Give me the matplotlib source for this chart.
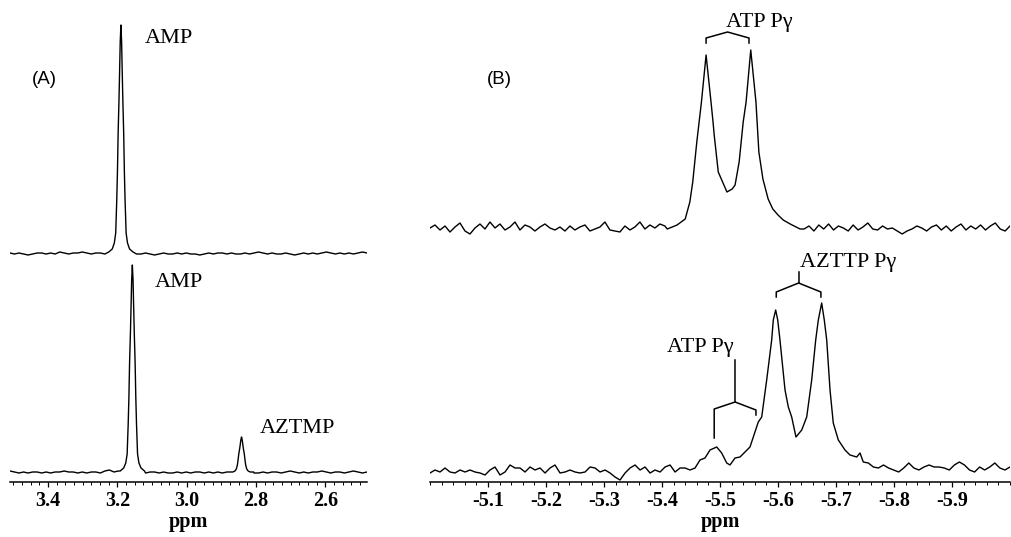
import matplotlib

matplotlib.use("Agg")
import matplotlib.pyplot as plt
import numpy as np
from matplotlib.ticker import FormatStrFormatter, MultipleLocator

plt.rcParams["axes.unicode_minus"] = False

# ---- panel A : AMP / AZTMP region (ppm)
a_xlim = (3.51, 2.48)
a_ticks = [3.4, 3.2, 3.0, 2.8, 2.6]

# baseline noise on an even ppm grid (arbitrary units)
a_top_noise = [1, 0, 1, 0, -1, 0, 1, 1, 0, 1, 0, 2, 1, 0, 1, 1, 2, 1, 0, 1,
               1, 0, 1, 2, 1, 1, 0, 1, 0, 0, 1, 0, -1, 0, 1, 0, 0, 1, 0, 1,
               0, 0, -1, 0, 1, 0, 1, 1, 0, 1, 0, 0, 1, 0, 1, 2, 1, 0, 1, 0,
               0, 1, 0, -1, 0, 1, 0, 1, 0, 1, 2, 1, 0, 1, 0, 1, 0, 1, 2, 1]
a_bot_noise = [2, 1, 0, 1, 0, 1, 1, 0, 1, 0, 1, 1, 2, 1, 1, 0, 1, 0, 1, 1,
               0, 2, 3, 1, 2, 1, 0, 1, 0, 1, 0, 1, 1, 0, 1, 0, 0, 1, 0, 1,
               0, 1, 1, 0, 1, 0, 1, 0, 1, 1, 0, 1, 0, 1, 0, 0, 1, 0, 1, 1,
               0, 1, 2, 1, 0, 1, 0, 1, 1, 2, 1, 0, 1, 1, 0, 1, 2, 1, 0, 1]

amp_top_ppm = [3.225, 3.215, 3.209, 3.205, 3.202, 3.200, 3.198, 3.1955,
               3.1935, 3.192, 3.190, 3.188, 3.1865, 3.1845, 3.182, 3.180,
               3.178, 3.175, 3.171, 3.165, 3.155]
amp_top_int = [2, 5, 11, 21, 54, 82, 121, 155, 187, 212, 229, 212, 187, 155,
               121, 82, 54, 21, 11, 5, 2]

amp_bot_ppm = [3.192, 3.182, 3.176, 3.172, 3.169, 3.167, 3.165, 3.1625,
               3.1605, 3.159, 3.157, 3.155, 3.1535, 3.1515, 3.149, 3.147,
               3.145, 3.142, 3.138, 3.132, 3.122]
amp_bot_int = [2, 5, 10, 19, 49, 75, 110, 141, 170, 193, 208, 193, 170, 141,
               110, 75, 49, 19, 10, 5, 2]

aztmp_ppm = [2.877, 2.867, 2.861, 2.857, 2.854, 2.852, 2.850, 2.8475,
             2.8455, 2.844, 2.842, 2.840, 2.8385, 2.8365, 2.834, 2.832,
             2.830, 2.827, 2.823, 2.817, 2.807]
aztmp_int = [1, 1, 2, 4, 8, 13, 19, 24, 29, 33, 36, 33, 29, 24, 19, 13, 8,
             4, 2, 1, 1]

# ---- panel B : P-gamma region (ppm)
b_xlim = (-5.0, -6.0)
b_ticks = [-5.1, -5.2, -5.3, -5.4, -5.5, -5.6, -5.7, -5.8, -5.9]

b_top_left_noise = [2, 5, 0, 4, -2, 3, 7, -1, -4, 2, 6, 1, 8, 2, 6, 0, 3, 8,
                    0, 5, 3, -1, 3, 6, 2, 0, 3, -1, 4, 0, 3, 5, -1, 1, 3, 8,
                    0, -1, -2, 4, 0, 3, 8, 1, 5, 2, 6, 4]
b_top_right_noise = [1, 4, -1, 5, 1, 6, 0, 4, 2, -1, 5, 0, 3, 7, 1, 0, 4, 1,
                     2, -1, -4, -1, 1, 4, 2, -1, 3, 5, 0, 4, -1, 3, 6, 0, 4,
                     1, 5, 0, 4, 7, 1, -1, 4]
atp_top_ppm = [-5.409, -5.426, -5.440, -5.448, -5.453, -5.460, -5.464,
               -5.468, -5.476, -5.4845, -5.488, -5.490, -5.497, -5.503,
               -5.512, -5.521, -5.526, -5.533, -5.540, -5.545, -5.553,
               -5.562, -5.564, -5.567, -5.574, -5.583, -5.591, -5.600,
               -5.609, -5.621, -5.638]
atp_top_int = [1, 5, 11, 28, 48, 88, 108, 128, 175, 128, 108, 95, 58, 50,
               38, 41, 45, 68, 108, 128, 180, 128, 108, 78, 51, 31, 21, 15,
               10, 6, 1]

b_bot_left_noise = [-1, 2, 0, 4, 0, -1, 2, 0, 2, 0, -1, -3, 2, 5, -3, 0, 7,
                    4, 4, 0, 5, 2, 4, -1, 4, 7, -1, 0, 2, 0, -1, 0, 5, 4, 0,
                    2, -1, -5, -8, -1, 4, 7, 2, 5, -1, 2, 0, 5, 7, 0, 4, 4,
                    2, 4]
b_bot_right_noise = [10, 9, 5, 4, 7, 4, 2, 0, 4, 9, 4, 2, 5, 7, 5, 5, 4, 2,
                     7, 10, 7, 2, 0, 5, 2, 5, 9, 4, 2, 5]
azttp_ppm = [-5.4655, -5.4741, -5.4828, -5.4943, -5.5029, -5.5116, -5.5172,
             -5.5259, -5.5345, -5.5431, -5.5517, -5.5603, -5.5660, -5.5719,
             -5.5805, -5.5891, -5.5919, -5.5960, -5.5995, -5.6034, -5.6121,
             -5.6178, -5.6236, -5.6310, -5.6409, -5.6495, -5.6581, -5.6650,
             -5.6695, -5.6753, -5.6798, -5.6840, -5.6897, -5.6953, -5.7040,
             -5.7155, -5.7241, -5.7357, -5.7414]
azttp_int = [12, 14, 22, 25, 19, 9, 7, 14, 15, 20, 25, 40, 50, 55, 92, 132,
             152, 162, 152, 132, 82, 65, 55, 35, 42, 55, 92, 132, 152, 169,
             152, 132, 82, 49, 32, 22, 17, 15, 19]

# doublet positions used for the brackets
atp_top_lines = [-5.476, -5.550]
azttp_lines = [-5.597, -5.674]
atp_bot_lines = [-5.490, -5.562]


def merge(noise_ppm, noise, peak_ppm, peak_int):
    noise_ppm = np.asarray(noise_ppm, dtype=float)
    noise = np.asarray(noise, dtype=float)
    lo, hi = min(peak_ppm), max(peak_ppm)
    keep = (noise_ppm < lo) | (noise_ppm > hi)
    x = np.concatenate([noise_ppm[keep], peak_ppm])
    y = np.concatenate([noise[keep], peak_int])
    order = np.argsort(x)
    return x[order], y[order]


W, H = 1011, 537
fig = plt.figure(figsize=(W / 100, H / 100), dpi=100)
Y_TOP = 482
axA = fig.add_axes([10 / W, 55 / H, 357 / W, Y_TOP / H])
axB = fig.add_axes([430 / W, 55 / H, 580 / W, Y_TOP / H])

serif = "Liberation Serif"
line_kw = dict(color="black", lw=1.0)
brk_kw = dict(color="black", lw=1.1)
label_kw = dict(family=serif, fontsize=16)

# panel A traces
a_grid = np.linspace(a_xlim[0], a_xlim[1], len(a_top_noise))
x, y = merge(a_grid, a_top_noise, amp_top_ppm, amp_top_int)
axA.plot(x, y + 228, **line_kw)
a_grid = np.linspace(a_xlim[0], a_xlim[1], len(a_bot_noise))
x, y = merge(a_grid, a_bot_noise, amp_bot_ppm, amp_bot_int)
x, y = merge(x, y, aztmp_ppm, aztmp_int)
axA.plot(x, y + 9, **line_kw)

axA.text(amp_top_ppm[10] - 0.07, 439, "AMP", **label_kw)
axA.text(amp_bot_ppm[10] - 0.065, 195, "AMP", **label_kw)
axA.text(aztmp_ppm[10] - 0.053, 49, "AZTMP", **label_kw)
axA.text(3.447, 403, "(A)", family="Liberation Sans", fontsize=13.5,
         va="center")

# panel B traces
x = np.concatenate([np.linspace(-5.0, -5.405, len(b_top_left_noise)),
                    atp_top_ppm,
                    np.linspace(-5.645, -6.0, len(b_top_right_noise))])
y = np.concatenate([b_top_left_noise, atp_top_int, b_top_right_noise])
axB.plot(x, y + 252, **line_kw)
x = np.concatenate([np.linspace(-5.0, -5.457, len(b_bot_left_noise)),
                    azttp_ppm,
                    np.linspace(-5.747, -6.0, len(b_bot_right_noise))])
y = np.concatenate([b_bot_left_noise, azttp_int, b_bot_right_noise])
axB.plot(x, y + 10, **line_kw)

# brackets
p1, p2 = atp_top_lines
axB.plot([p1, p1, (p1 + p2) / 2, p2, p2], [439, 444, 450, 444, 439], **brk_kw)
axB.text((p1 + p2) / 2 + 0.002, 455, "ATP P\u03b3", **label_kw)

p1, p2 = azttp_lines
pm = (p1 + p2) / 2
axB.plot([p1, p1, pm, p2, p2], [185, 190, 199, 190, 185], **brk_kw)
axB.plot([pm, pm], [199, 210], **brk_kw)
axB.text(pm - 0.002, 215, "AZTTP P\u03b3", **label_kw)

p1, p2 = atp_bot_lines
pm = (p1 + p2) / 2
axB.plot([p1, p1, pm, p2, p2], [44, 73, 80, 72, 67], **brk_kw)
axB.plot([pm, pm], [80, 122], **brk_kw)
axB.text(pm + 0.003, 130, "ATP P\u03b3", ha="right", **label_kw)

axB.text(-5.098, 403, "(B)", family="Liberation Sans", fontsize=13.5,
         va="center")

for ax, lim, ticks, minor in ((axA, a_xlim, a_ticks, 0.025),
                              (axB, b_xlim, b_ticks, 0.02)):
    ax.set_xlim(*lim)
    ax.set_ylim(0, Y_TOP)
    ax.set_xticks(ticks)
    ax.xaxis.set_major_formatter(FormatStrFormatter("%.1f"))
    ax.xaxis.set_minor_locator(MultipleLocator(minor))
    ax.set_yticks([])
    for side in ("top", "left", "right"):
        ax.spines[side].set_visible(False)
    ax.spines["bottom"].set_linewidth(1.1)
    ax.tick_params(axis="x", which="major", direction="out", length=3.5,
                   width=0.9, pad=3)
    ax.tick_params(axis="x", which="minor", direction="out", length=2.5,
                   width=0.7)
    for lab in ax.get_xticklabels():
        lab.set_family(serif)
        lab.set_fontweight("bold")
        lab.set_fontsize(14.5)
    ax.set_xlabel("ppm", family=serif, fontweight="bold", fontsize=14.5,
                  labelpad=1)
    ax.patch.set_visible(False)

fig.savefig("out.png", dpi=100)
